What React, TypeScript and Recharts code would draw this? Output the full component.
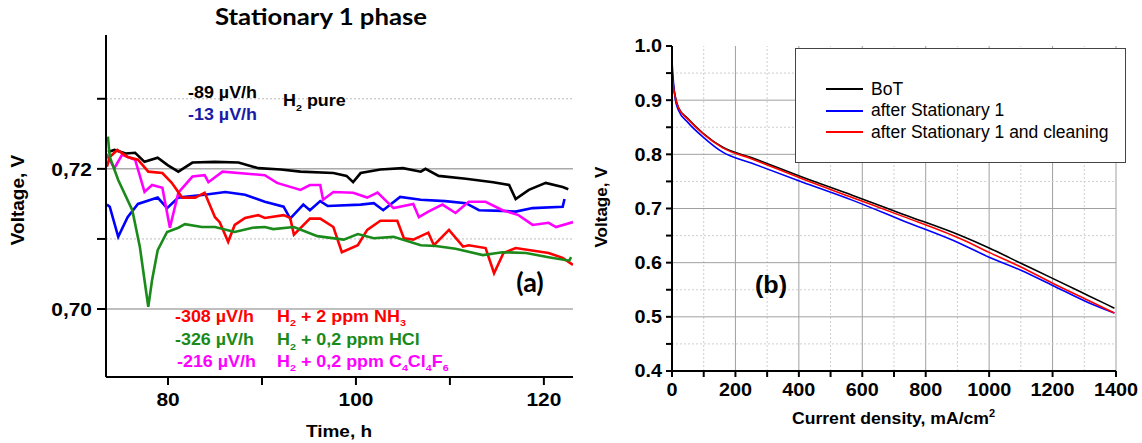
import React from "react";
import {
  LineChart,
  Line,
  XAxis,
  YAxis,
  ReferenceLine,
  Legend,
} from "recharts";

const ARIAL = '"Liberation Sans", Arial, sans-serif';
const LATO = 'Lato, "Open Sans", sans-serif';

// ---- panel (a): time (h) vs voltage (V) ----
const pureBlack = [
  [73.6, 0.7224], [74.3, 0.7227], [75.5, 0.7222], [76.5, 0.7223], [77.5, 0.721], [78.9, 0.7216],
  [80.0, 0.7205], [81.1, 0.7196], [82.6, 0.7209], [85.0, 0.721], [87.5, 0.7209], [89.6, 0.7201],
  [92.0, 0.7199], [94.1, 0.7196], [97.6, 0.7194], [99.0, 0.719], [99.7, 0.7181], [100.5, 0.7194],
  [102.6, 0.7199], [105.0, 0.7201], [106.9, 0.7196], [107.4, 0.72], [108.8, 0.719], [111.7, 0.7186],
  [114.6, 0.7181], [116.3, 0.7177], [117.0, 0.7157], [118.4, 0.717], [120.2, 0.718], [122.0, 0.7174],
  [122.6, 0.7171],
];
const pureBlue = [
  [73.5, 0.7149], [73.8, 0.7146], [74.7, 0.7103], [75.7, 0.7131], [76.8, 0.715], [78.9, 0.7159],
  [79.9, 0.7144], [81.1, 0.7159], [83.9, 0.7163], [86.1, 0.7167], [88.2, 0.7163], [90.3, 0.7153],
  [92.3, 0.7146], [93.0, 0.7129], [94.4, 0.7149], [95.1, 0.7141], [96.2, 0.7154], [97.0, 0.7147],
  [100.5, 0.7149], [101.9, 0.7151], [102.9, 0.7141], [104.7, 0.716], [106.9, 0.7156], [109.5, 0.7154],
  [111.7, 0.7151], [113.1, 0.7141], [115.6, 0.714], [117.0, 0.7139], [118.8, 0.7144], [122.0, 0.7146],
  [122.2, 0.7157],
];
const c4cl4f6 = [
  [73.3, 0.7224], [74.3, 0.7201], [75.1, 0.722], [76.5, 0.7213], [77.5, 0.7167], [78.3, 0.7177],
  [79.4, 0.7173], [80.2, 0.7116], [81.1, 0.7166], [82.6, 0.7189], [83.9, 0.7191], [84.3, 0.7181],
  [85.8, 0.7196], [90.3, 0.7191], [91.6, 0.718], [94.1, 0.717], [95.1, 0.7177], [96.2, 0.7177],
  [96.5, 0.7156], [97.6, 0.7167], [99.7, 0.7166], [101.2, 0.7159], [102.3, 0.7166], [104.0, 0.7144],
  [106.1, 0.715], [106.7, 0.7131], [107.7, 0.7139], [109.2, 0.7149], [110.6, 0.7137], [112.0, 0.7153],
  [113.8, 0.7153], [115.6, 0.7141], [117.3, 0.7134], [118.8, 0.712], [120.5, 0.7123], [121.3, 0.7117],
  [123.1, 0.7124],
];
const nh3 = [
  [73.5, 0.7203], [73.8, 0.7217], [74.6, 0.7227], [75.7, 0.7217], [76.8, 0.7213], [77.9, 0.7196],
  [79.4, 0.7194], [80.4, 0.718], [81.5, 0.7159], [82.9, 0.7159], [83.9, 0.7166], [85.0, 0.7131],
  [85.5, 0.7124], [86.4, 0.7096], [87.1, 0.712], [88.2, 0.713], [89.6, 0.7134], [90.3, 0.713],
  [92.3, 0.7134], [93.0, 0.713], [93.4, 0.7106], [95.1, 0.7129], [96.2, 0.7129], [97.6, 0.7117],
  [98.5, 0.7081], [100.2, 0.7091], [101.2, 0.7113], [102.6, 0.7126], [104.4, 0.7126], [105.1, 0.7101],
  [106.1, 0.7099], [106.9, 0.7104], [107.7, 0.7109], [108.3, 0.7091], [109.9, 0.7113], [111.4, 0.7089],
  [112.0, 0.7091], [113.8, 0.7087], [114.7, 0.7051], [115.7, 0.708], [117.0, 0.7087], [120.5, 0.708],
  [122.0, 0.7073], [123.1, 0.7063],
];
const hcl = [
  [73.6, 0.7246], [73.8, 0.7217], [74.7, 0.7184], [76.2, 0.7141], [77.0, 0.7089], [77.5, 0.7041],
  [77.9, 0.7003], [78.3, 0.7041], [78.9, 0.7084], [79.9, 0.711], [81.1, 0.7116], [81.8, 0.7121],
  [83.6, 0.7117], [85.0, 0.7117], [87.1, 0.711], [89.0, 0.7116], [90.3, 0.7117], [91.2, 0.7114],
  [93.4, 0.7117], [95.9, 0.7104], [98.7, 0.7099], [100.2, 0.7107], [101.9, 0.7101], [104.0, 0.7103],
  [106.9, 0.7091], [108.5, 0.709], [110.6, 0.7086], [113.5, 0.7077], [115.6, 0.7081], [118.1, 0.708],
  [120.5, 0.7074], [122.7, 0.7069], [122.9, 0.7074],
];
const timeTicks = [80, 90, 100, 110, 120];
const voltTicksA = [0.7, 0.71, 0.72, 0.73];

const seriesA = [
  { name: "H2 pure (a)", pts: pureBlack, color: "#000000" },
  { name: "H2 pure (b)", pts: pureBlue, color: "#0000ff" },
  { name: "C4Cl4F6", pts: c4cl4f6, color: "#ff00ff" },
  { name: "NH3", pts: nh3, color: "#ff0000" },
  { name: "HCl", pts: hcl, color: "#1a8a1a" },
];

// ---- panel (b): polarisation curves ----
const currentDensity = [0, 5, 10, 20, 50, 100, 160, 250, 410, 570, 730, 910, 1000, 1100, 1200, 1310, 1395];
const botVolt = [0.955, 0.925, 0.908, 0.887, 0.866, 0.838, 0.813, 0.794, 0.758, 0.724, 0.689, 0.65, 0.627, 0.599, 0.571, 0.54, 0.516];
const afterVolt = [0.972, 0.93, 0.903, 0.882, 0.859, 0.831, 0.804, 0.784, 0.749, 0.715, 0.677, 0.635, 0.61, 0.586, 0.558, 0.527, 0.507];
const cleanVolt = [0.945, 0.922, 0.906, 0.886, 0.865, 0.837, 0.812, 0.792, 0.755, 0.72, 0.685, 0.644, 0.619, 0.592, 0.562, 0.531, 0.507];
const curTicks = [0, 100, 200, 300, 400, 500, 600, 700, 800, 900, 1000, 1100, 1200, 1300, 1400];
const voltTicksB = [0.4, 0.45, 0.5, 0.55, 0.6, 0.65, 0.7, 0.75, 0.8, 0.85, 0.9, 0.95, 1.0];

const seriesB = [
  { key: "bot", name: "BoT", color: "#000000" },
  { key: "after", name: "after Stationary 1", color: "#0000ff" },
  { key: "clean", name: "after Stationary 1 and cleaning", color: "#ff0000" },
];

const dataB = currentDensity.map((c, i) => ({
  cur: c,
  bot: botVolt[i],
  after: afterVolt[i],
  clean: cleanVolt[i],
}));

const axisLine = { stroke: "#000", strokeWidth: 2 };

// tick text, slightly widened like the source figure
const makeTick = (fmt: (v: number) => string, vertical: boolean, size: number) => (props: any) => {
  const { x, y, payload, textAnchor } = props;
  return (
    <text
      transform={`translate(${x},${y}) scale(1.1,1)`}
      textAnchor={textAnchor}
      dy={vertical ? "0.355em" : "0.71em"}
      fontSize={size}
      fontWeight={700}
      fontFamily={ARIAL}
      fill="#000"
    >
      {fmt(payload.value)}
    </text>
  );
};

const fmtTime = (v: number) => (v % 20 === 0 ? String(v) : "");
const fmtVoltA = (v: number) => (Math.round(v * 100) % 2 === 0 ? v.toFixed(2).replace(".", ",") : "");
const fmtCur = (v: number) => (v % 200 === 0 ? String(v) : "");
const fmtVoltB = (v: number) => (Math.round(v * 100) % 10 === 0 ? v.toFixed(1) : "");

function T({ x, y, children, size = 16, color = "#000", sx = 1.12, anchor = "start", family = ARIAL, weight = 700, rotate = 0 }: any) {
  return (
    <text
      transform={`translate(${x},${y}) rotate(${rotate}) scale(${sx},1)`}
      fontSize={size}
      fill={color}
      fontFamily={family}
      fontWeight={weight}
      textAnchor={anchor}
    >
      {children}
    </text>
  );
}

const sub = (s: string, size: number, rest = "") => (
  <>
    <tspan fontSize={size * 0.6} dy={size * 0.3}>{s}</tspan>
    <tspan dy={-size * 0.3}>{rest}</tspan>
  </>
);

function LegendBox() {
  return (
    <div
      style={{
        width: 331,
        height: 115,
        border: "1px solid #444",
        background: "#fff",
        boxSizing: "border-box",
        position: "relative",
        fontFamily: ARIAL,
      }}
    >
      {seriesB.map((s, i) => (
        <div
          key={s.key}
          style={{ position: "absolute", left: 30, top: 29 + i * 21.5, height: 22, display: "flex", alignItems: "center" }}
        >
          <div style={{ width: 37, height: 2, background: s.color, marginRight: 8 }} />
          <span style={{ fontSize: 17.5, color: "#000", whiteSpace: "nowrap" }}>{s.name}</span>
        </div>
      ))}
    </div>
  );
}

export default function App() {
  return (
    <div style={{ position: "absolute", left: 0, top: 0, width: 1142, height: 443, background: "#fff" }}>
      <div style={{ position: "absolute", left: 0, top: 0 }}>
        <LineChart width={590} height={443} margin={{ top: 35, right: 17, bottom: 36, left: 0 }}>
          <XAxis
            type="number"
            dataKey="t"
            domain={[73.4, 123.1]}
            ticks={timeTicks}
            allowDataOverflow
            height={30}
            tickSize={8}
            tickMargin={8}
            axisLine={axisLine}
            tickLine={axisLine}
            tick={makeTick(fmtTime, false, 19)}
          />
          <YAxis
            type="number"
            domain={[0.6903, 0.7391]}
            ticks={voltTicksA}
            allowDataOverflow
            width={106}
            tickSize={9}
            tickMargin={5}
            axisLine={axisLine}
            tickLine={axisLine}
            tick={makeTick(fmtVoltA, true, 19)}
          />
          <ReferenceLine y={0.73} stroke="#bbb" strokeDasharray="2 2" />
          <ReferenceLine y={0.71} stroke="#bbb" strokeDasharray="2 2" />
          <ReferenceLine y={0.72} stroke="#aaa" strokeWidth={1.5} />
          <ReferenceLine y={0.7} stroke="#aaa" strokeWidth={1.5} />
          {seriesA.map((s) => (
            <Line
              key={s.name}
              data={s.pts.map(([t, v]) => ({ t, v }))}
              dataKey="v"
              type="linear"
              stroke={s.color}
              strokeWidth={2.6}
              dot={false}
              isAnimationActive={false}
            />
          ))}
        </LineChart>
      </div>

      <div style={{ position: "absolute", left: 590, top: 0 }}>
        <LineChart width={552} height={443} data={dataB} margin={{ top: 46, right: 26, bottom: 42, left: 0 }}>
          <XAxis
            type="number"
            dataKey="cur"
            domain={[0, 1400]}
            ticks={curTicks}
            height={30}
            tickSize={6}
            tickMargin={6}
            axisLine={axisLine}
            tickLine={axisLine}
            tick={makeTick(fmtCur, false, 18)}
          />
          <YAxis
            type="number"
            domain={[0.4, 1.0]}
            ticks={voltTicksB}
            allowDataOverflow
            width={82}
            tickSize={6}
            tickMargin={4}
            axisLine={axisLine}
            tickLine={axisLine}
            tick={makeTick(fmtVoltB, true, 18)}
          />
          {curTicks.filter((c) => c > 0).map((c) => (
            <ReferenceLine
              key={"v" + c}
              x={c}
              stroke={c % 200 === 0 ? "#a0a0a0" : "#cfcfcf"}
              strokeDasharray={c % 200 === 0 ? undefined : "2 2"}
            />
          ))}
          {voltTicksB.filter((v) => v > 0.41 && v < 0.99).map((v) => (
            <ReferenceLine
              key={"h" + v}
              y={v}
              stroke={Math.round(v * 100) % 10 === 0 ? "#a0a0a0" : "#cfcfcf"}
              strokeDasharray={Math.round(v * 100) % 10 === 0 ? undefined : "2 2"}
            />
          ))}
          {seriesB.map((s) => (
            <Line
              key={s.key}
              dataKey={s.key}
              name={s.name}
              type="monotone"
              stroke={s.color}
              strokeWidth={1.6}
              dot={false}
              isAnimationActive={false}
            />
          ))}
          <Legend
            layout="vertical"
            align="center"
            verticalAlign="middle"
            content={() => <LegendBox />}
            wrapperStyle={{ left: 205, top: 48, width: 331, height: 115 }}
          />
        </LineChart>
      </div>

      <svg
        width={1142}
        height={443}
        style={{ position: "absolute", left: 0, top: 0, pointerEvents: "none" }}
      >
        <text x={321} y={25} fontSize={23} fontWeight={700} fontFamily={LATO} textAnchor="middle" textLength={212} lengthAdjust="spacingAndGlyphs">
          Stationary 1 phase
        </text>
        <T x={24} y={200} size={19} anchor="middle" rotate={-90} sx={1}>Voltage, V</T>
        <T x={339} y={437} size={17} anchor="middle">Time, h</T>

        <T x={188} y={97.5}>-89 µV/h</T>
        <T x={188} y={119.5} color="#1a1aa6">-13 µV/h</T>
        <T x={283} y={106}>H{sub("2", 16, " pure")}</T>

        <T x={175} y={321.5} color="#ff0000">-308 µV/h</T>
        <T x={277} y={321.5} color="#ff0000">H{sub("2", 16, " + 2 ppm NH")}{sub("3", 16)}</T>
        <T x={175} y={345} color="#1a8a1a">-326 µV/h</T>
        <T x={277} y={345} color="#1a8a1a">H{sub("2", 16, " + 0,2 ppm HCl")}</T>
        <T x={177} y={366.5} color="#ff00ff">-216 µV/h</T>
        <T x={277} y={366.5} color="#ff00ff">
          H{sub("2", 16, " + 0,2 ppm C")}{sub("4", 16, "Cl")}{sub("4", 16, "F")}{sub("6", 16)}
        </T>
        <T x={530} y={292} size={27} anchor="middle" family={LATO} sx={1}>(a)</T>

        <T x={607} y={207} size={17} anchor="middle" rotate={-90} sx={1}>Voltage, V</T>
        <T x={792} y={424} size={16} sx={1.1}>
          Current density, mA/cm<tspan fontSize={10} dy={-7}>2</tspan>
        </T>
        <T x={771} y={293} size={24} anchor="middle" sx={1.05}>(b)</T>
      </svg>
    </div>
  );
}
